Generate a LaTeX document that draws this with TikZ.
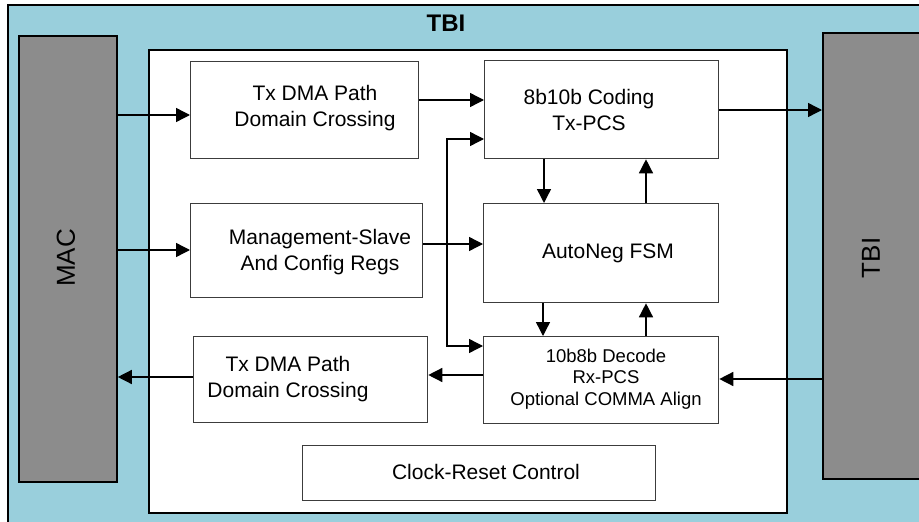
\documentclass[tikz,border=0pt]{standalone}
\usepackage{fontspec}
\setmainfont{Liberation Sans}
\usetikzlibrary{arrows.meta}
\definecolor{bgblue}{RGB}{153,207,220}
\definecolor{macgray}{RGB}{140,140,140}
\definecolor{boxline}{RGB}{60,60,60}
\tikzset{
  blk/.style={draw=boxline, line width=1.3pt, fill=white, rectangle, inner sep=0pt, anchor=north west},
  lbl/.style={align=center, inner sep=0pt, font=\fontsize{21}{26}\selectfont},
  sml/.style={align=center, inner sep=0pt, font=\fontsize{18.5}{21.7}\selectfont},
  arr/.style={line width=1.4pt, -{Triangle[length=14pt,width=14pt]}},
  darr/.style={line width=1.4pt, {Triangle[length=14pt,width=14pt]}-{Triangle[length=14pt,width=14pt]}},
}
\begin{document}
\begin{tikzpicture}[x=1pt,y=-1pt]
\useasboundingbox (0,0) rectangle (919,522);
% outer TBI region
\fill[bgblue] (8,5) rectangle (940,540);
\draw[line width=1.8pt] (940,5) -- (8,5) -- (8,540);
\node[font=\bfseries\fontsize{24}{28}\selectfont] (title) at (446,23) {TBI};
% MAC and TBI gray blocks
\node[draw, line width=1.8pt, fill=macgray, anchor=north west, minimum width=98pt, minimum height=446pt, inner sep=0pt] (mac) at (18,35) {};
\node[rotate=90, font=\fontsize{26}{30}\selectfont] (maclbl) at (66,258) {MAC};
\node[draw, line width=1.8pt, fill=macgray, anchor=north west, minimum width=130pt, minimum height=446pt, inner sep=0pt] (tbi) at (822,32) {};
\node[rotate=90, font=\fontsize{26}{30}\selectfont] (tbilbl) at (871,258) {TBI};
% inner white area
\node[draw, line width=1.8pt, fill=white, anchor=north west, minimum width=638pt, minimum height=463pt, inner sep=0pt] (core) at (148,49) {};
% blocks
\node[blk, minimum width=228pt, minimum height=97pt] (txa) at (190,61) {};
\node[lbl] (txat) at (315,108) {Tx DMA Path\\Domain Crossing};
\node[blk, minimum width=234pt, minimum height=98pt] (cod) at (484,60) {};
\node[lbl] (codt) at (589,110) {8b10b Coding\\Tx-PCS};
\node[blk, minimum width=232pt, minimum height=94pt] (mgt) at (190,203) {};
\node[lbl] (mgtt) at (320,252) {Management-Slave\\And Config Regs};
\node[blk, minimum width=235pt, minimum height=99pt] (aut) at (483,203) {};
\node[lbl] (autt) at (608,253) {AutoNeg FSM};
\node[blk, minimum width=235pt, minimum height=87pt] (dec) at (483,336) {};
\node[sml] (dect) at (606,379) {10b8b Decode\\Rx-PCS\\Optional COMMA Align};
\node[blk, minimum width=234pt, minimum height=86pt] (txb) at (193,336) {};
\node[lbl] (txbt) at (288,379) {Tx DMA Path\\Domain Crossing};
\node[blk, minimum width=353pt, minimum height=55pt] (clk) at (302,445) {};
\node[lbl] (clkt) at (486,472) {Clock-Reset Control};
% connectors
\draw[arr] (mac.east |- 0,115) -- (txa.west |- 0,115);
\draw[arr] (txa.east |- 0,100) -- (cod.west |- 0,100);
\draw[arr] (cod.east |- 0,110) -- (tbi.west |- 0,110);
\draw[arr] (mac.east |- 0,250) -- (mgt.west |- 0,250);
\draw[arr] (mgt.east |- 0,244) -- (aut.west |- 0,244);
\coordinate (vtop) at (447,139);
\coordinate (vbot) at (447,346);
\draw[darr] (cod.west |- vtop) -- (vtop) -- (vbot) -- (dec.west |- vbot);
\draw[arr] (cod.south -| 544,0) -- (aut.north -| 544,0);
\draw[arr] (aut.north -| 646,0) -- (cod.south -| 646,0);
\draw[arr] (aut.south -| 543,0) -- (dec.north -| 543,0);
\draw[arr] (dec.north -| 646,0) -- (aut.south -| 646,0);
\draw[arr] (dec.west |- 0,375) -- (txb.east |- 0,375);
\draw[arr] (tbi.west |- 0,379) -- (dec.east |- 0,379);
\draw[arr] (txb.west |- 0,377) -- (mac.east |- 0,377);
\end{tikzpicture}
\end{document}
